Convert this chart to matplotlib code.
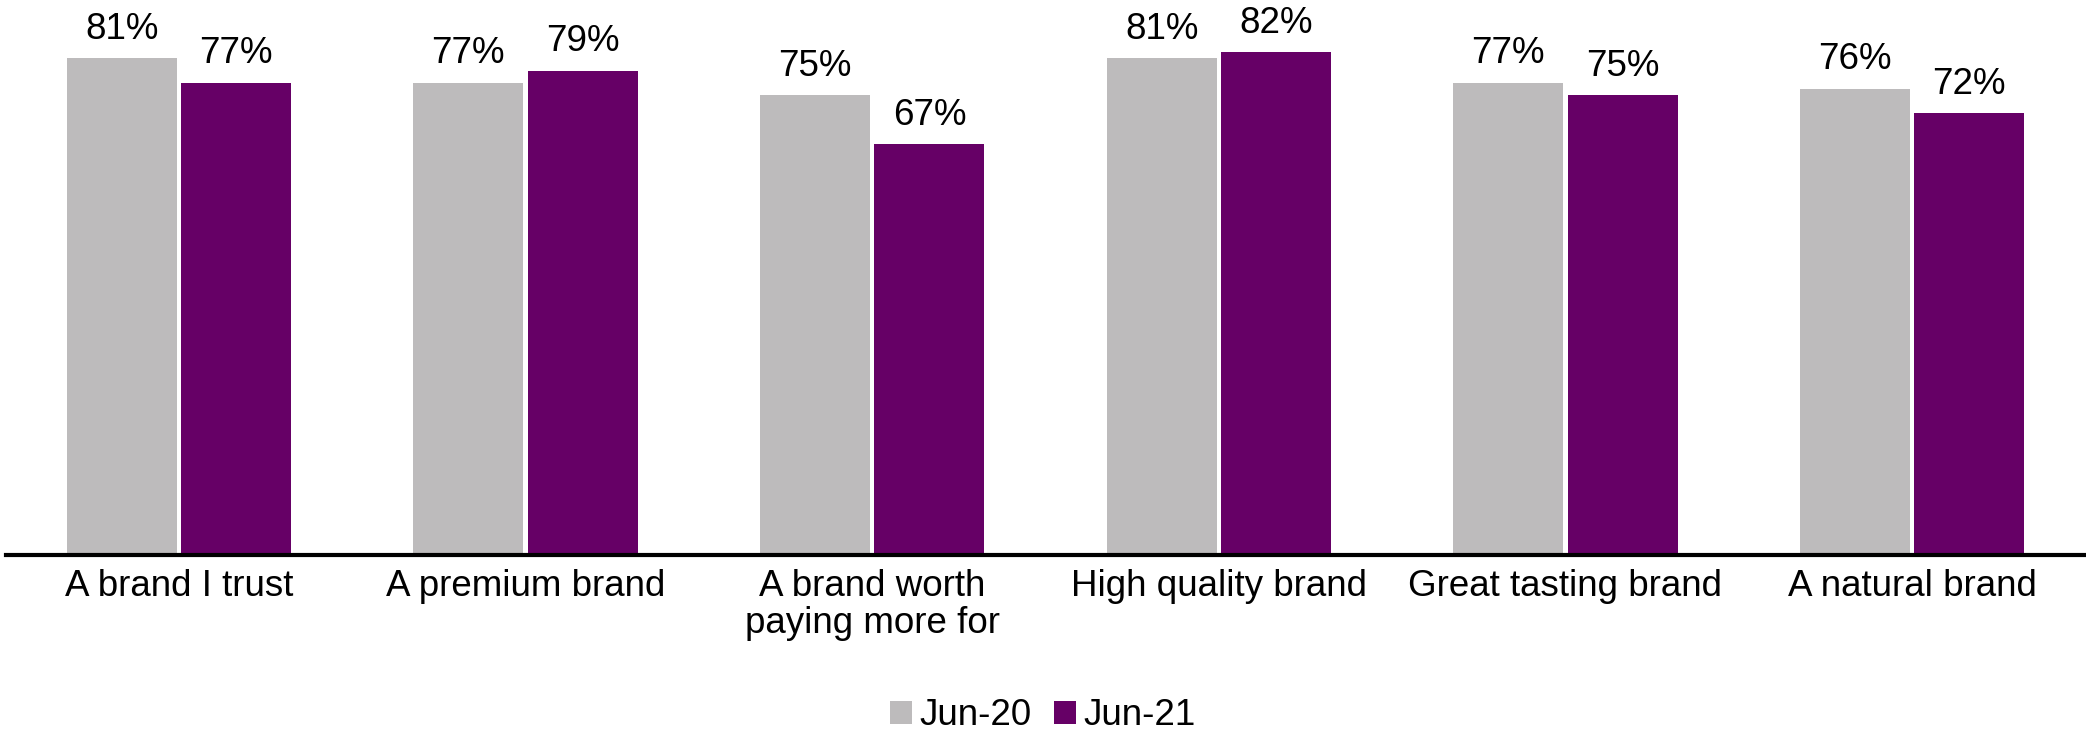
import matplotlib
matplotlib.use("Agg")
import matplotlib.pyplot as plt
from matplotlib.patches import Patch
import numpy as np

plt.rcParams['font.family'] = ['Liberation Sans', 'DejaVu Sans']

categories = ["A brand I trust", "A premium brand", "A brand worth\npaying more for",
              "High quality brand", "Great tasting brand", "A natural brand"]
series_names = ["Jun-20", "Jun-21"]
jun20 = [81, 77, 75, 81, 77, 76]
jun21 = [77, 79, 67, 82, 75, 72]
colors = ["#BDBBBC", "#660066"]

fig = plt.figure(figsize=(20.86, 7.35), dpi=100)
ax = fig.add_axes([0.0027, 0.2449, 0.9970, 0.7551])

x = np.arange(len(categories))
width = 0.318
gap = 0.012
fs = 26.5

for vals, col, off in [(jun20, colors[0], -(width + gap) / 2), (jun21, colors[1], (width + gap) / 2)]:
    bars = ax.bar(x + off, vals, width=width, color=col, linewidth=0)
    for b, v in zip(bars, vals):
        ax.annotate(f"{v}%", (b.get_x() + b.get_width() / 2, v),
                    xytext=(0, 14), textcoords="offset points",
                    ha="center", va="baseline", fontsize=fs, color="black")

ax.set_xlim(-0.5, 5.5)
ax.set_ylim(0, 90.5)
ax.set_yticks([])
ax.set_xticks(x)
ax.set_xticklabels(categories, fontsize=fs, linespacing=1.08)
ax.tick_params(axis="x", length=0, pad=10)
for s in ["top", "right", "left"]:
    ax.spines[s].set_visible(False)
ax.spines["bottom"].set_linewidth(3)
ax.spines["bottom"].set_color("black")

handles = [Patch(facecolor=c, edgecolor="none") for c in colors]
fig.legend(handles, series_names, loc="center", bbox_to_anchor=(0.5, 0.026),
           ncol=2, frameon=False, fontsize=fs, handlelength=0.6, handleheight=0.6,
           handletextpad=0.2, columnspacing=0.6, borderpad=0)

fig.savefig("out.png", dpi=100)
